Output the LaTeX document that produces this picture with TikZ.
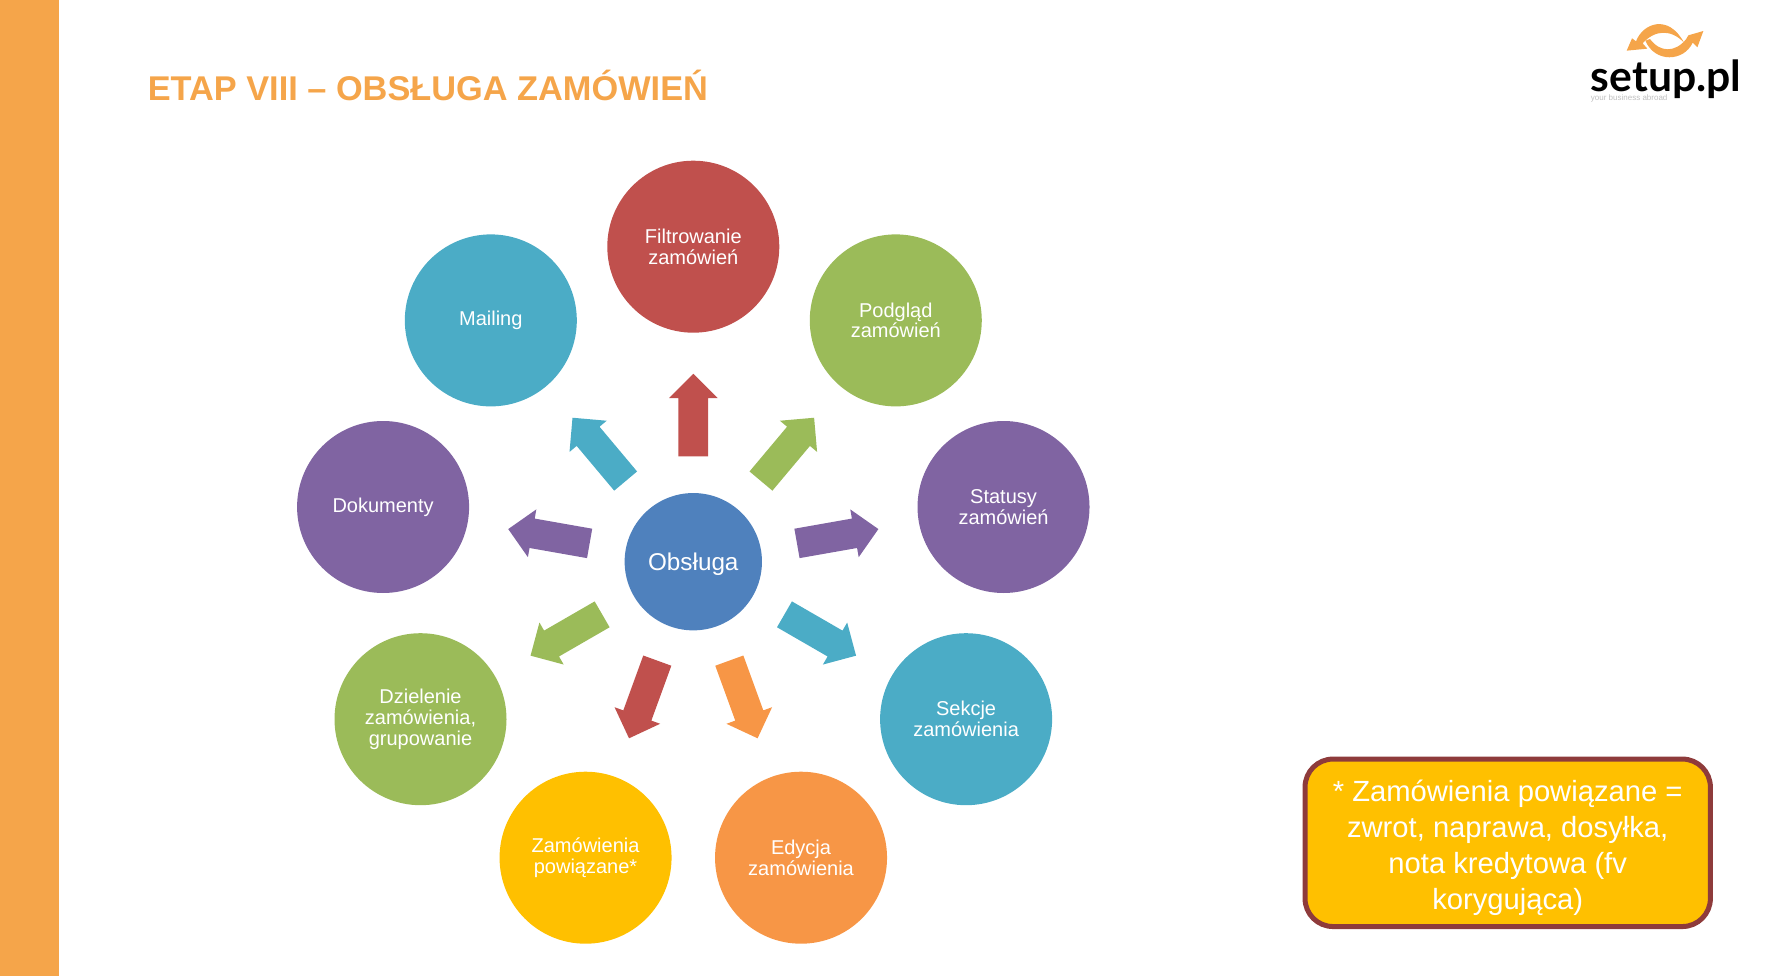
\documentclass[tikz,border=0pt]{standalone}
\usepackage{fontspec}
\setmainfont{Liberation Sans}
\newfontfamily\logofont{Lato}
\usetikzlibrary{shapes.arrows,calc}
\definecolor{barorange}{HTML}{F5A54A}
\definecolor{hubblue}{HTML}{4F81BD}
\definecolor{wheelred}{HTML}{C0504D}
\definecolor{wheelgreen}{HTML}{9BBB59}
\definecolor{wheelpurple}{HTML}{8064A2}
\definecolor{wheelaqua}{HTML}{4BACC6}
\definecolor{wheelorange}{HTML}{F79646}
\definecolor{wheelyellow}{HTML}{FFC000}
\definecolor{noteline}{HTML}{8E3B3B}
\tikzset{
  petal/.style={circle,fill=#1,text=white,minimum size=129pt,inner sep=0pt,align=center,
    font=\fontsize{15}{15.6}\selectfont},
  hub/.style={circle,fill=hubblue,text=white,minimum size=103pt,inner sep=0pt,
    font=\fontsize{18.2}{20}\selectfont},
  spoke/.style={single arrow,fill=#1,minimum height=62pt,minimum width=36pt,inner xsep=0pt,inner ysep=11pt,
    single arrow head extend=7pt,single arrow tip angle=90,anchor=tail}
}
\begin{document}
\begin{tikzpicture}[x=.75pt,y=.75pt]
    \useasboundingbox (0,0) rectangle (1766,976);
    \fill [barorange] (0,0) rectangle (58.5,976);
    \node [anchor=base west,inner sep=0pt,text=barorange,font=\fontsize{25.75}{28}\selectfont\bfseries] (title) at (147.5,875) {ETAP VIII – OBSŁUGA ZAMÓWIEŃ};
    \begin{scope}[shift={(693.3,414.3)}]
        \node [hub] (hub) at (0,0) {\raisebox{-1.7pt}[\height][\depth]{Obsługa}};
        \node [petal=wheelred] (filtr) at (90:315) {Filtrowanie\\zamówień};
        \node [petal=wheelgreen] (podglad) at (50:315) {Podgląd\\zamówień};
        \node [petal=wheelpurple] (statusy) at (10:315) {Statusy\\zamówień};
        \node [petal=wheelaqua] (sekcje) at (-30:315) {Sekcje\\zamówienia};
        \node [petal=wheelorange] (edycja) at (-70:315) {Edycja\\zamówienia};
        \node [petal=wheelyellow] (powiazane) at (-110:315) {Zamówienia\\powiązane*};
        \node [petal=wheelgreen] (dzielenie) at (-150:315) {Dzielenie\\zamówienia,\\grupowanie};
        \node [petal=wheelpurple] (dokumenty) at (170:315) {Dokumenty};
        \node [petal=wheelaqua] (mailing) at (130:315) {Mailing};
        \node [spoke=wheelred,rotate=90] (s1) at ($(hub)!1/3!(filtr)$) {};
        \node [spoke=wheelgreen,rotate=50] (s2) at ($(hub)!1/3!(podglad)$) {};
        \node [spoke=wheelpurple,rotate=10] (s3) at ($(hub)!1/3!(statusy)$) {};
        \node [spoke=wheelaqua,rotate=-30] (s4) at ($(hub)!1/3!(sekcje)$) {};
        \node [spoke=wheelorange,rotate=-70] (s5) at ($(hub)!1/3!(edycja)$) {};
        \node [spoke=wheelred,rotate=-110] (s6) at ($(hub)!1/3!(powiazane)$) {};
        \node [spoke=wheelgreen,rotate=-150] (s7) at ($(hub)!1/3!(dzielenie)$) {};
        \node [spoke=wheelpurple,rotate=170] (s8) at ($(hub)!1/3!(dokumenty)$) {};
        \node [spoke=wheelaqua,rotate=130] (s9) at ($(hub)!1/3!(mailing)$) {};
    \end{scope}
    \node [draw=noteline,line width=3.75pt,fill=wheelyellow,rounded corners=21pt,
        minimum width=304pt,minimum height=125.6pt,inner sep=0pt] (note) at (1507.7,133.2) {};
    \node [text=white,align=center,inner sep=0pt,font=\fontsize{21.9}{27}\selectfont] (notetext) at ([yshift=-3.8pt]note.center)
        {* Zamówienia powiązane =\\zwrot, naprawa, dosyłka,\\nota kredytowa (fv\\korygująca)};
    \begin{scope}[shift={(1560,976)},x=.25pt,y=-.25pt]
        \fill [barorange] (200,152) -- (216,115) -- (228,124) .. controls (248,70) and (325,40) .. (372,128) .. controls (335,88) and (285,88) .. (248,130) -- (262,146) -- cycle;
        \fill [barorange] (430,93) -- (412,142) -- (398,128) .. controls (372,185) and (285,190) .. (256,122) -- (270,117) .. controls (300,158) and (345,158) .. (378,118) -- (385,106) -- cycle;
        \node [anchor=base west,inner sep=0pt,font=\fontsize{32}{36}\logofont\bfseries] (logo) at (92,276) {setup.pl};
        \node [anchor=base west,inner sep=0pt,text=black!25,font=\fontsize{6}{7}\selectfont] (motto) at (92,303) {your business abroad};
    \end{scope}
\end{tikzpicture}
\end{document}
